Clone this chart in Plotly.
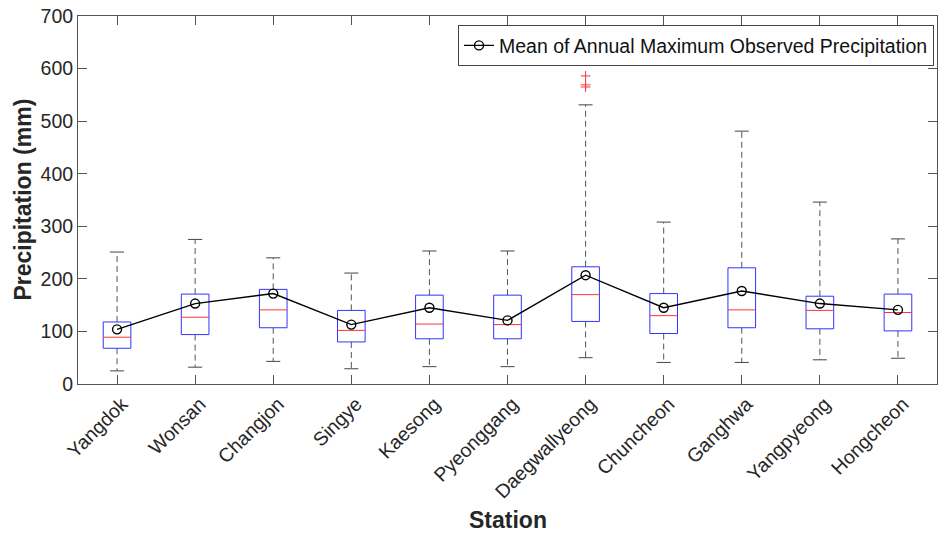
import plotly.graph_objects as go

stations = ["Yangdok", "Wonsan", "Changjon", "Singye", "Kaesong", "Pyeonggang",
            "Daegwallyeong", "Chuncheon", "Ganghwa", "Yangpyeong", "Hongcheon"]
whisker_low = [25, 32, 43, 29, 33, 33, 50, 41, 41, 46, 49]
q1 = [68, 94, 107, 80, 86, 86, 119, 96, 107, 105, 101]
median = [89, 127, 141, 102, 114, 113, 170, 130, 141, 140, 136]
q3 = [118, 171, 180, 140, 169, 169, 223, 172, 221, 167, 171]
whisker_high = [251, 275, 240, 211, 253, 253, 531, 308, 481, 346, 276]
means = [104, 153, 172, 113, 145, 121, 207, 145, 177, 153, 141]
outlier_station = ["Daegwallyeong", "Daegwallyeong", "Daegwallyeong"]
outlier_values = [586, 569, 565]

pos = list(range(1, len(stations) + 1))
hw = 0.177   # box half width
cw = 0.09    # cap half width

bx, by, mx, my, wx, wy, cx, cy = [], [], [], [], [], [], [], []
for i, p in enumerate(pos):
    bx += [p - hw, p + hw, p + hw, p - hw, p - hw, None]
    by += [q1[i], q1[i], q3[i], q3[i], q1[i], None]
    mx += [p - hw, p + hw, None]
    my += [median[i], median[i], None]
    wx += [p, p, None, p, p, None]
    wy += [q3[i], whisker_high[i], None, q1[i], whisker_low[i], None]
    cx += [p - cw, p + cw, None, p - cw, p + cw, None]
    cy += [whisker_high[i], whisker_high[i], None, whisker_low[i], whisker_low[i], None]

fig = go.Figure()
fig.add_trace(go.Scatter(x=wx, y=wy, mode="lines", line=dict(color="#555555", width=1, dash="6px,4px"),
                         showlegend=False, hoverinfo="skip"))
fig.add_trace(go.Scatter(x=cx, y=cy, mode="lines", line=dict(color="#444444", width=1),
                         showlegend=False, hoverinfo="skip"))
fig.add_trace(go.Scatter(x=bx, y=by, mode="lines", line=dict(color="#3333ff", width=1),
                         showlegend=False, hoverinfo="skip"))
fig.add_trace(go.Scatter(x=mx, y=my, mode="lines", line=dict(color="#ff3333", width=1),
                         showlegend=False, hoverinfo="skip"))
ox = [pos[stations.index(s)] for s in outlier_station]
fig.add_trace(go.Scatter(x=ox, y=outlier_values, mode="markers",
                         marker=dict(symbol="cross-thin", size=7, line=dict(color="#ff3333", width=1)),
                         showlegend=False))
fig.add_trace(go.Scatter(x=pos, y=means, mode="lines+markers",
                         name="Mean of Annual Maximum Observed Precipitation",
                         line=dict(color="black", width=1.4),
                         marker=dict(symbol="circle-open", size=9, color="black", line=dict(width=1.4))))

axis_col = "#555555"
fig.update_layout(
    width=943, height=537,
    margin=dict(l=78, r=5, t=13, b=153),
    plot_bgcolor="white", paper_bgcolor="white",
    font=dict(family="Liberation Sans, Arial, sans-serif", size=19.5, color="#262626"),
    legend=dict(x=0.9965, y=0.975, xanchor="right", yanchor="top",
                bordercolor="#444444", borderwidth=1, bgcolor="white",
                font=dict(size=19.5, color="#111111"), itemwidth=30,
                tracegroupgap=0),
    showlegend=True,
    annotations=[
        dict(text="<b>Station</b>", xref="paper", yref="paper", x=0.5, y=-0.369,
             xanchor="center", yanchor="middle", showarrow=False,
             font=dict(size=23, color="#262626")),
        dict(text="<b>Precipitation (mm)</b>", xref="paper", yref="paper", x=-0.0645, y=0.5,
             xanchor="center", yanchor="middle", showarrow=False, textangle=-90,
             font=dict(size=23, color="#262626")),
    ],
)
fig.update_xaxes(range=[0.5, 11.5], tickvals=pos, ticktext=stations, tickangle=-45,
                 showgrid=False, zeroline=False, showline=True, linecolor=axis_col, linewidth=1,
                 mirror="ticks", ticks="inside", ticklen=9, tickcolor=axis_col,
                 ticklabelshift=5,
                 tickfont=dict(size=19.5, color="#262626"))
fig.update_yaxes(range=[0, 700], tickvals=list(range(0, 701, 100)),
                 showgrid=False, zeroline=False, showline=True, linecolor=axis_col, linewidth=1,
                 mirror="ticks", ticks="inside", ticklen=9, tickcolor=axis_col,
                 tickfont=dict(size=19.5, color="#262626"))

fig.write_html("out.html")
